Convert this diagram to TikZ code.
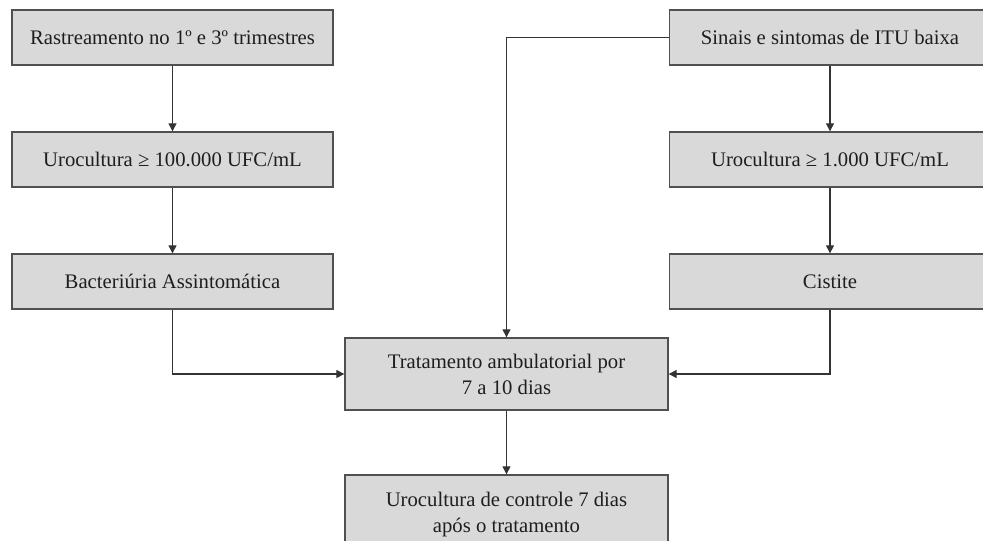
\documentclass[tikz,border=0pt]{standalone}
\usepackage{fontspec}
\setmainfont{Liberation Serif}
\usetikzlibrary{arrows.meta}
\definecolor{boxfill}{HTML}{D9D9D9}
\definecolor{boxline}{HTML}{505050}
\definecolor{conn}{HTML}{333333}
\definecolor{txt}{HTML}{1E1E1E}
\begin{document}
\begin{tikzpicture}[x=1pt,y=-1pt,
  flowbox/.style={draw=boxline, line width=1.4pt, fill=boxfill, text=txt,
    minimum width=321pt, minimum height=55pt, inner sep=0pt, align=center,
    font=\fontsize{20.7}{26}\selectfont},
  conline/.style={draw=conn, line width=1.3pt},
  conarrow/.style={conline, -{Triangle[length=8pt,width=8pt]}}]
\useasboundingbox (0,0) rectangle (983,541);
\clip (0,0) rectangle (983,541);
\node[flowbox] (A) at (172.5,37.5) {Rastreamento no 1º e 3º trimestres};
\node[flowbox] (B) at (172.5,159.5) {Urocultura ≥ 100.000 UFC/mL};
\node[flowbox] (C) at (172.5,281.5) {Bacteriúria Assintomática};
\node[flowbox] (D) at (830,37.5) {Sinais e sintomas de ITU baixa};
\node[flowbox] (E) at (830,159.5) {Urocultura ≥ 1.000 UFC/mL};
\node[flowbox] (F) at (830,281.5) {Cistite};
\node[flowbox, minimum width=323pt, minimum height=72pt] (G) at (506.5,374) {Tratamento ambulatorial por\\7 a 10 dias};
\node[flowbox, minimum width=323pt, minimum height=80pt] (H) at (506.5,515) {Urocultura de controle 7 dias\\após o tratamento};
\draw[conarrow] (A.south) -- (B.north);
\draw[conarrow] (B.south) -- (C.north);
\draw[conarrow] (C.south) |- (G.west);
\draw[conarrow] (D.west) -| (G.north);
\draw[conarrow] (D.south) -- (E.north);
\draw[conarrow] (E.south) -- (F.north);
\draw[conarrow] (F.south) |- (G.east);
\draw[conarrow] (G.south) -- (H.north);
\end{tikzpicture}
\end{document}
